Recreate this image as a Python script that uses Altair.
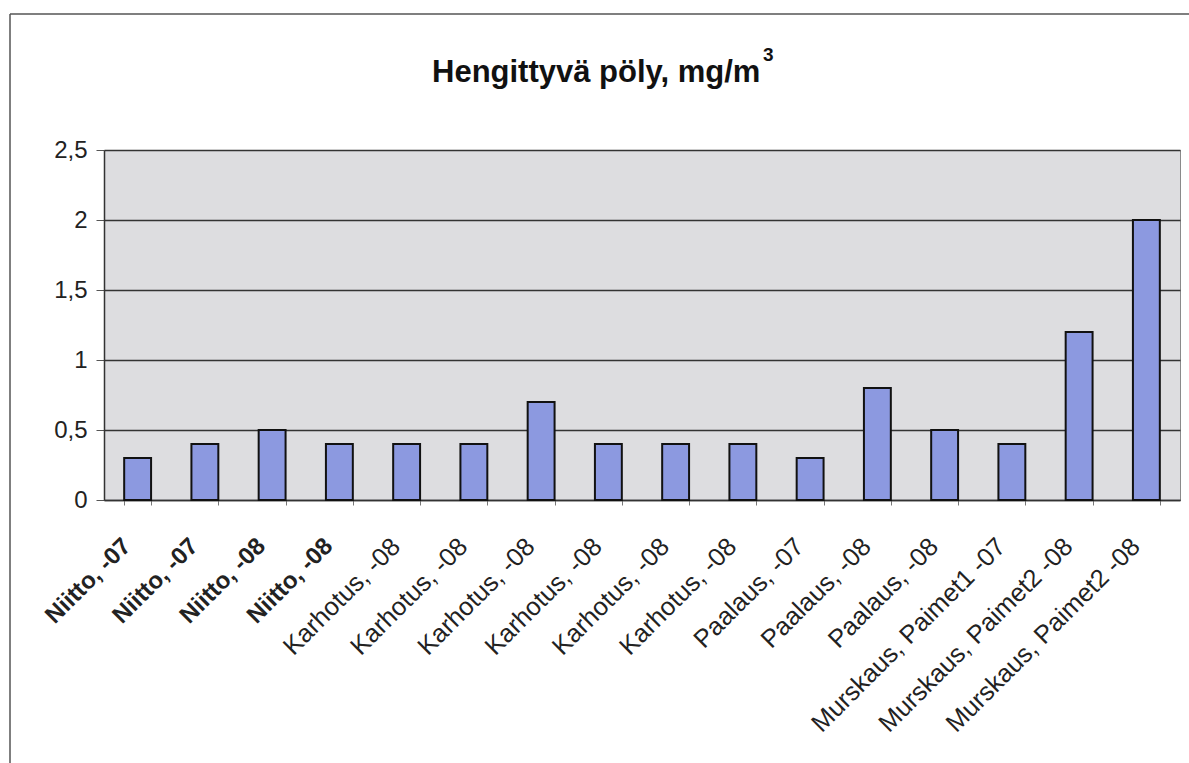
import json
import altair as alt
import pandas as pd

categories = [
    "Niitto, -07", "Niitto, -07", "Niitto, -08", "Niitto, -08",
    "Karhotus, -08", "Karhotus, -08", "Karhotus, -08", "Karhotus, -08",
    "Karhotus, -08", "Karhotus, -08", "Paalaus, -07", "Paalaus, -08",
    "Paalaus, -08", "Murskaus, Paimet1 -07", "Murskaus, Paimet2 -08",
    "Murskaus, Paimet2 -08",
]
values = [0.3, 0.4, 0.5, 0.4, 0.4, 0.4, 0.7, 0.4, 0.4, 0.4, 0.3, 0.8, 0.5, 0.4, 1.2, 2.0]
y_ticks = [0, 0.5, 1, 1.5, 2, 2.5]
title_main = "Hengittyvä pöly, mg/m"
title_sup = "3"

df = pd.DataFrame({"idx": list(range(len(categories))), "label": categories, "value": values})
labels_js = json.dumps(categories)

FONT = "Liberation Sans"

bars = alt.Chart(df).mark_bar(
    color="#8c99e0", stroke="#111111", strokeWidth=2
).encode(
    x=alt.X(
        "idx:O",
        title=None,
        scale=alt.Scale(paddingInner=0.6, paddingOuter=0.3),
        axis=alt.Axis(
            labelExpr=f"{labels_js}[datum.value]",
            labelAngle=-45,
            labelAlign="right",
            labelBaseline="middle",
            labelFont=FONT,
            labelFontSize={"condition": {"test": "datum.value < 4", "value": 24}, "value": 25.5},
            labelColor="#222222",
            labelFontWeight={"condition": {"test": "datum.value < 4", "value": "bold"}, "value": "normal"},
            labelPadding=37,
            labelOffset=-11,
            labelLimit=400,
            tickBand="extent",
            tickColor="#777777",
            tickSize=5,
            domainColor="#333333",
            domainWidth=1.5,
            grid=False,
        ),
    ),
    y=alt.Y(
        "value:Q",
        title=None,
        scale=alt.Scale(domain=[0, 2.5], nice=False),
        axis=alt.Axis(
            values=y_ticks,
            labelExpr="replace(format(datum.value, ''), '.', ',')",
            labelFont=FONT,
            labelFontSize=24,
            labelColor="#222222",
            labelPadding=9,
            tickSize=8,
            tickColor="#555555",
            domainColor="#333333",
            domainWidth=1.5,
            grid=True,
            gridColor="#333333",
            gridWidth=1.3,
        ),
    ),
)

one = pd.DataFrame({"t": [title_main], "s": [title_sup]})
title = alt.Chart(one).mark_text(
    font=FONT, fontSize=31, fontWeight="bold", color="#111111",
    align="left", baseline="alphabetic", clip=False
).encode(text="t:N", x=alt.value(328), y=alt.value(-68))
title_s = alt.Chart(one).mark_text(
    font=FONT, fontSize=19, fontWeight="bold", color="#111111",
    align="left", baseline="alphabetic", clip=False
).encode(text="s:N", x=alt.value(659), y=alt.value(-89))

frame_left = alt.Chart(one).mark_rule(color="#555555", strokeWidth=1.5, clip=False).encode(
    x=alt.value(-94), y=alt.value(-136), y2=alt.value(613)
)
frame_top = alt.Chart(one).mark_rule(color="#555555", strokeWidth=1.5, clip=False).encode(
    x=alt.value(-94), x2=alt.value(1085), y=alt.value(-136)
)

chart = alt.layer(frame_left, frame_top, bars, title, title_s).properties(
    width=1076,
    height=350,
    autosize=alt.AutoSizeParams(type="none"),
    padding={"left": 104, "top": 150, "right": 9, "bottom": 263},
).configure(
    background="white",
    view=alt.ViewConfig(fill="#dddde0", stroke="#8a8a8a", strokeWidth=1),
)

chart.save("out.html", embed_options={"renderer": "svg", "actions": False})
